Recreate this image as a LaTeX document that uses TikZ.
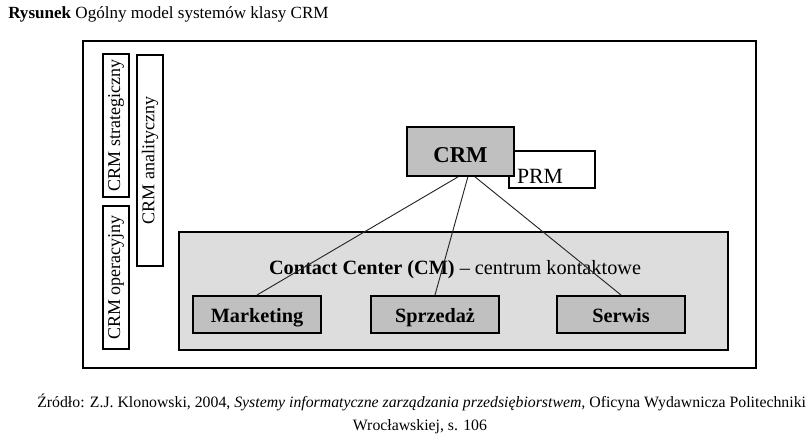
\documentclass[tikz,border=0pt]{standalone}
\usepackage{fontspec}
\setmainfont{Liberation Serif}
\usepackage{xcolor}
\usetikzlibrary{positioning}
\definecolor{darkfill}{RGB}{192,192,192}
\definecolor{lightfill}{RGB}{221,221,221}
\tikzstyle{frame} = [rectangle, draw, line width=1.5pt, inner sep=0pt]
\tikzstyle{side} = [rectangle, draw, line width=1.5pt, rotate=90, inner sep=0pt,
    minimum height=19.5pt, font=\fontsize{13.5}{16}\selectfont]
\tikzstyle{area} = [rectangle, draw, line width=0.9pt, fill=lightfill, inner sep=0pt]
\tikzstyle{block} = [rectangle, draw, line width=1.5pt, fill=darkfill, inner sep=0pt,
    text height=15pt, text depth=3pt,
    font=\fontsize{15.2}{18}\selectfont\bfseries, minimum width=96pt, minimum height=27.75pt]
\tikzstyle{line} = [draw, black!85, line width=0.7pt]

\begin{document}
\begin{tikzpicture}[x=0.75pt, y=-0.75pt]
        \useasboundingbox (0,0) rectangle (811,435);
        \node [anchor=west, inner sep=0pt, font=\fontsize{12.8}{15}\selectfont] (title) at (8,14)
            {\textbf{Rysunek} Ogólny model systemów klasy CRM};

        \node [frame, minimum width=504.75pt, minimum height=245.25pt] (frame) at (419.5,204.5) {};
        \node [side, minimum width=107.25pt] (strat) at (116,125.5) {CRM strategiczny};
        \node [side, minimum width=107.25pt] (oper) at (116,277.5) {CRM operacyjny};
        \node [side, minimum width=158.25pt] (anal) at (150,160.5) {CRM analityczny};

        \node [area, minimum width=411.75pt, minimum height=88.5pt] (cc) at (453.5,291) {};
        \node [inner sep=0pt, font=\fontsize{15.2}{18}\selectfont] (cctext) at (455,270)
            {\textbf{Contact Center (CM)} -- centrum kontaktowe};

        \node [rectangle, draw, line width=1.5pt, fill=white, anchor=south west, align=left,
            text width=52.5pt, text height=24pt, text depth=3.75pt, inner xsep=6pt, inner ysep=0pt,
            font=\fontsize{16.3}{19}\selectfont] (prm) at (508,189) {PRM};
        \node [block, minimum width=80.25pt, minimum height=36.75pt, text height=19pt,
            font=\fontsize{17}{20}\selectfont\bfseries] (crm) at (460.5,151.5) {CRM};

        \node [block] (mkt) at (257,314.5) {Marketing};
        \node [block] (sales) at (435,314.5) {Sprzedaż};
        \node [block] (serv) at (621,314.5) {Serwis};

        \path [line] ([xshift=-2pt]crm.south) -- (mkt.north);
        \path [line] ([xshift=5.5pt]crm.south) -- (sales.north);
        \path [line] ([xshift=11pt]crm.south) -- (serv.north);

        \node [anchor=west, inner sep=0pt, font=\fontsize{11.85}{14}\selectfont] (src) at (37,402)
            {Źródło: Z.J. Klonowski, 2004, \textit{Systemy informatyczne zarządzania przedsiębiorstwem,} Oficyna Wydawnicza Politechniki};
        \node [inner sep=0pt, font=\fontsize{11.85}{14}\selectfont] (src2) at (420,427)
            {Wrocławskiej, s. 106};
    \end{tikzpicture}
\end{document}
